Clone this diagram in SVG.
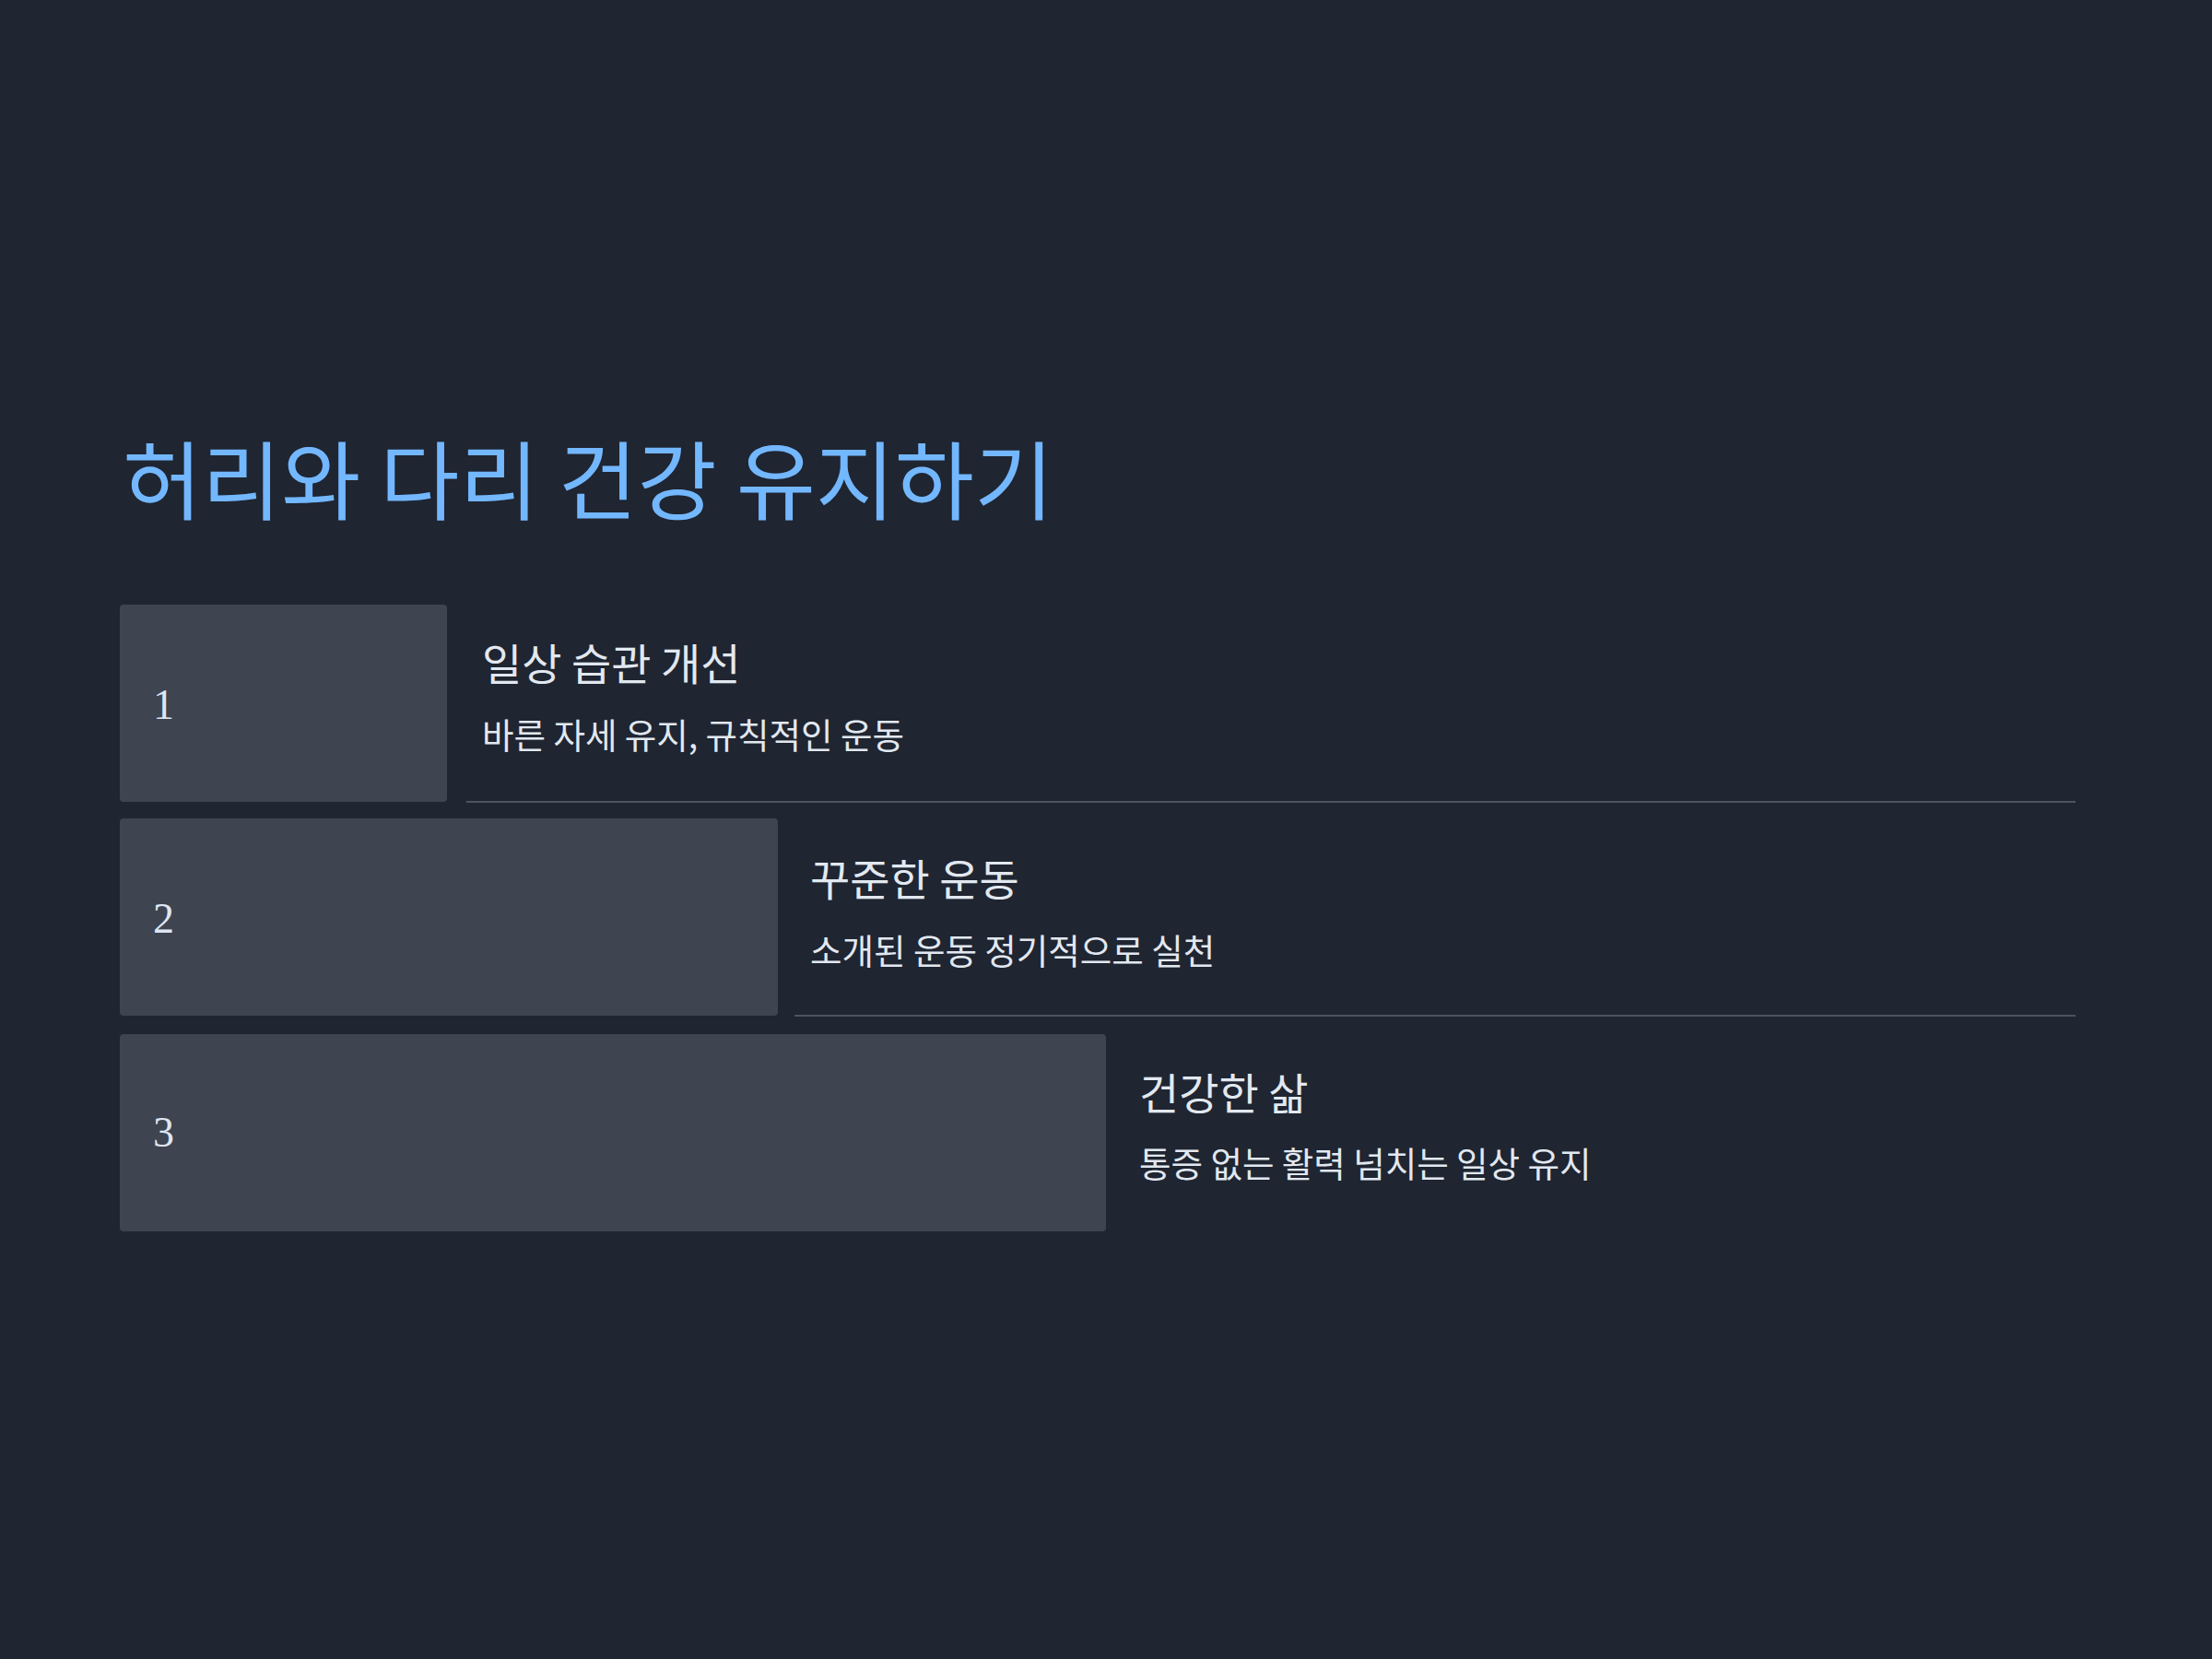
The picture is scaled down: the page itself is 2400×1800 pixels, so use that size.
<svg xmlns="http://www.w3.org/2000/svg" width="2400" height="1800" viewBox="0 0 2400 1800">
<style>
.bg{fill:#1f2531}
.box{fill:#3e4450}
.num{font-family:"Liberation Serif","DejaVu Serif",serif;font-size:46px;fill:#dde6f2}
.title{font-family:"Noto Sans CJK KR","Noto Sans",sans-serif;font-size:93.6px;fill:#73b7ff}
.head{font-family:"Noto Sans CJK KR","Noto Sans",sans-serif;font-size:47px;fill:#e2e8f0}
.body{font-family:"Noto Sans CJK KR","Noto Sans",sans-serif;font-size:37.5px;fill:#e2e8f0}
.sep{stroke:#4d5461;stroke-width:2;fill:none}
</style>
<rect class="bg" x="0" y="0" width="2400" height="1800"/>
<text id="title" class="title" x="133" y="557">허리와 다리 건강 유지하기</text>
<g id="connectors">
<line class="sep" x1="506" y1="870" x2="2252" y2="870"/>
<line class="sep" x1="862" y1="1102" x2="2252" y2="1102"/>
</g>
<g id="step1">
<rect class="box" x="130" y="656" width="355" height="214" rx="4"/>
<text class="num" x="166" y="780">1</text>
<text class="head" x="523" y="738">일상 습관 개선</text>
<text class="body" x="523" y="812">바른 자세 유지, 규칙적인 운동</text>
</g>
<g id="step2">
<rect class="box" x="130" y="888" width="714" height="214" rx="4"/>
<text class="num" x="166" y="1012">2</text>
<text class="head" x="879" y="972">꾸준한 운동</text>
<text class="body" x="879" y="1046">소개된 운동 정기적으로 실천</text>
</g>
<g id="step3">
<rect class="box" x="130" y="1122" width="1070" height="214" rx="4"/>
<text class="num" x="166" y="1244">3</text>
<text class="head" x="1236" y="1204">건강한 삶</text>
<text class="body" x="1236" y="1277">통증 없는 활력 넘치는 일상 유지</text>
</g>
</svg>
